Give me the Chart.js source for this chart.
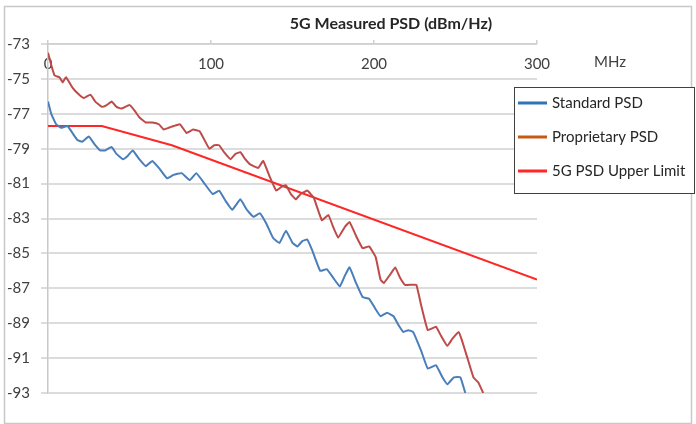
<!DOCTYPE html>
<html>
<head>
<meta charset="utf-8">
<script src="https://cdn.jsdelivr.net/npm/chart.js@4.4.0/dist/chart.umd.min.js"></script>
<style>body{margin:0;background:#fff;}</style>
</head>
<body>
<canvas id="chart1" width="696" height="424"></canvas>
<script>
var xTicks = [0, 100, 200, 300];
var yTicks = [-73, -75, -77, -79, -81, -83, -85, -87, -89, -91, -93];

var stdMHz = [0, 2, 5, 8, 12, 15, 18, 21, 25, 29, 32, 35, 39, 42, 46, 49, 52, 56, 60, 64, 68, 73, 77, 82, 87, 91, 96, 101, 105, 109, 113, 118, 122, 126, 130, 134, 138, 142, 146, 150, 153, 156, 159, 162, 167, 171, 175, 179, 182, 185, 189, 193, 197, 201, 204, 208, 212, 215, 218, 221, 224, 229, 233, 238, 242, 245, 249, 253, 256];
var stdPSD = [-76.3, -77.0, -77.6, -77.8, -77.7, -78.1, -78.5, -78.6, -78.3, -78.8, -79.1, -79.1, -78.9, -79.3, -79.6, -79.4, -79.1, -79.6, -80.0, -79.7, -80.1, -80.7, -80.5, -80.4, -80.8, -80.4, -81.0, -81.6, -81.4, -82.0, -82.5, -81.9, -82.5, -82.9, -82.7, -83.3, -84.1, -84.4, -83.7, -84.4, -84.6, -84.3, -84.2, -84.8, -86.0, -85.9, -86.4, -86.9, -86.3, -85.8, -86.7, -87.5, -87.6, -88.2, -88.6, -88.4, -88.6, -89.1, -89.5, -89.4, -89.5, -90.6, -91.6, -91.4, -92.1, -92.5, -92.1, -92.1, -93.0];

var propMHz = [0, 2, 4, 7, 9, 11, 15, 19, 22, 26, 29, 33, 36, 39, 42, 45, 50, 53, 56, 60, 64, 68, 71, 74, 77, 81, 85, 89, 93, 96, 99, 102, 105, 108, 112, 115, 118, 121, 124, 129, 132, 136, 140, 143, 146, 149, 152, 155, 159, 163, 168, 172, 175, 178, 182, 185, 189, 193, 197, 201, 204, 206, 210, 213, 216, 219, 223, 226, 229, 233, 238, 241, 245, 248, 252, 254, 257, 261, 264, 267];
var propPSD = [-73.5, -74.2, -74.8, -74.9, -75.2, -74.9, -75.5, -75.9, -76.1, -75.9, -76.3, -76.6, -76.5, -76.3, -76.6, -76.7, -76.5, -76.8, -77.2, -77.5, -77.5, -77.6, -77.9, -77.8, -77.7, -77.6, -78.1, -77.9, -78.0, -78.5, -79.0, -78.8, -78.8, -79.2, -79.6, -79.3, -79.2, -79.6, -79.9, -80.1, -79.7, -80.6, -81.4, -81.2, -81.1, -81.6, -81.9, -81.6, -81.4, -81.8, -83.1, -82.8, -83.5, -84.1, -83.5, -83.2, -84.0, -84.7, -84.6, -85.2, -86.5, -86.7, -86.2, -85.8, -86.4, -86.8, -86.8, -86.8, -88.0, -89.4, -89.2, -89.7, -90.3, -89.9, -89.5, -90.0, -90.9, -92.1, -92.4, -93.0];

var limitMHz = [0, 33, 76, 300];
var limitPSD = [-77.7, -77.7, -78.8, -86.5];

function pontos(xs, ys){
  var p = [];
  for (var i = 0; i < xs.length; i++){
    p.push({x: xs[i], y: ys[i]});
  }
  return p;
}

var quadro = {
  id: 'quadro',
  beforeDraw: function(chart){
    var c = chart.ctx;
    c.save();
    c.fillStyle = '#fff';
    c.fillRect(0, 0, chart.width, chart.height);
    c.strokeStyle = '#c8c8c8';
    c.lineWidth = 1.5;
    c.strokeRect(4.5, 6.5, 687, 417);
    c.restore();
  },
  afterDraw: function(chart){
    var c = chart.ctx;
    c.save();
    // titulo
    c.fillStyle = '#262626';
    c.font = 'bold 16px Lato';
    c.textAlign = 'center';
    c.textBaseline = 'middle';
    c.fillText('5G Measured PSD (dBm/Hz)', 391, 24);
    c.font = '15px Lato';
    c.fillStyle = '#404040';
    c.fillText('MHz', 610, 62);
    // legenda
    c.fillStyle = '#fff';
    c.fillRect(514, 87, 181, 107);
    c.strokeStyle = '#404040';
    c.lineWidth = 1;
    c.strokeRect(514.5, 87.5, 180, 106);
    var ds = chart.data.datasets;
    c.textAlign = 'left';
    c.fillStyle = '#262626';
    for (var i = 0; i < ds.length; i++){
      var y = 103 + i * 34;
      c.strokeStyle = ds[i].corLegenda;
      c.lineWidth = 3;
      c.beginPath();
      c.moveTo(518, y);
      c.lineTo(547, y);
      c.stroke();
      c.fillText(ds[i].label, 552, y);
    }
    c.restore();
  }
};

var data = {
  datasets: [{
    label: 'Standard PSD',
    data: pontos(stdMHz, stdPSD),
    borderColor: '#4a7ebb',
    corLegenda: '#2e75b6',
    borderWidth: 2,
    pointRadius: 0,
    tension: 0.1
  }, {
    label: 'Proprietary PSD',
    data: pontos(propMHz, propPSD),
    borderColor: '#be4b48',
    corLegenda: '#c55a11',
    borderWidth: 2,
    pointRadius: 0,
    tension: 0.1
  }, {
    label: '5G PSD Upper Limit',
    data: pontos(limitMHz, limitPSD),
    borderColor: '#ff2626',
    corLegenda: '#ff2626',
    borderWidth: 2,
    pointRadius: 0,
    tension: 0
  }]
};

var options = {
  responsive: false,
  animation: false,
  layout: {padding: {left: 0, top: 0, right: 159, bottom: 31}},
  plugins: {legend: {display: false}, title: {display: false}, tooltip: {enabled: false}},
  scales: {
    x: {
      type: 'linear',
      position: 'top',
      min: 0,
      max: 300,
      afterBuildTicks: function(s){ s.ticks = xTicks.map(function(v){ return {value: v}; }); },
      afterFit: function(s){ s.height = 44; },
      grid: {drawOnChartArea: false, tickLength: 4, color: '#d0d0d0', lineWidth: 1.5},
      border: {color: '#d0d0d0', width: 1.5},
      ticks: {mirror: true, padding: 11, color: '#404040', font: {family: 'Lato', size: 15}, maxRotation: 0}
    },
    y: {
      min: -93,
      max: -73,
      afterBuildTicks: function(s){ s.ticks = yTicks.map(function(v){ return {value: v}; }); },
      afterFit: function(s){ s.width = 48; },
      grid: {tickLength: 7, color: '#dcdcdc', lineWidth: 2},
      border: {color: '#c8c8c8', width: 1.5},
      ticks: {padding: 11, color: '#404040', font: {family: 'Lato', size: 15}}
    }
  }
};

var ctx = document.getElementById('chart1');
var grafico = new Chart(ctx, {
  type: 'line',
  data: data,
  options: options,
  plugins: [quadro]
});
</script>
</body>
</html>
